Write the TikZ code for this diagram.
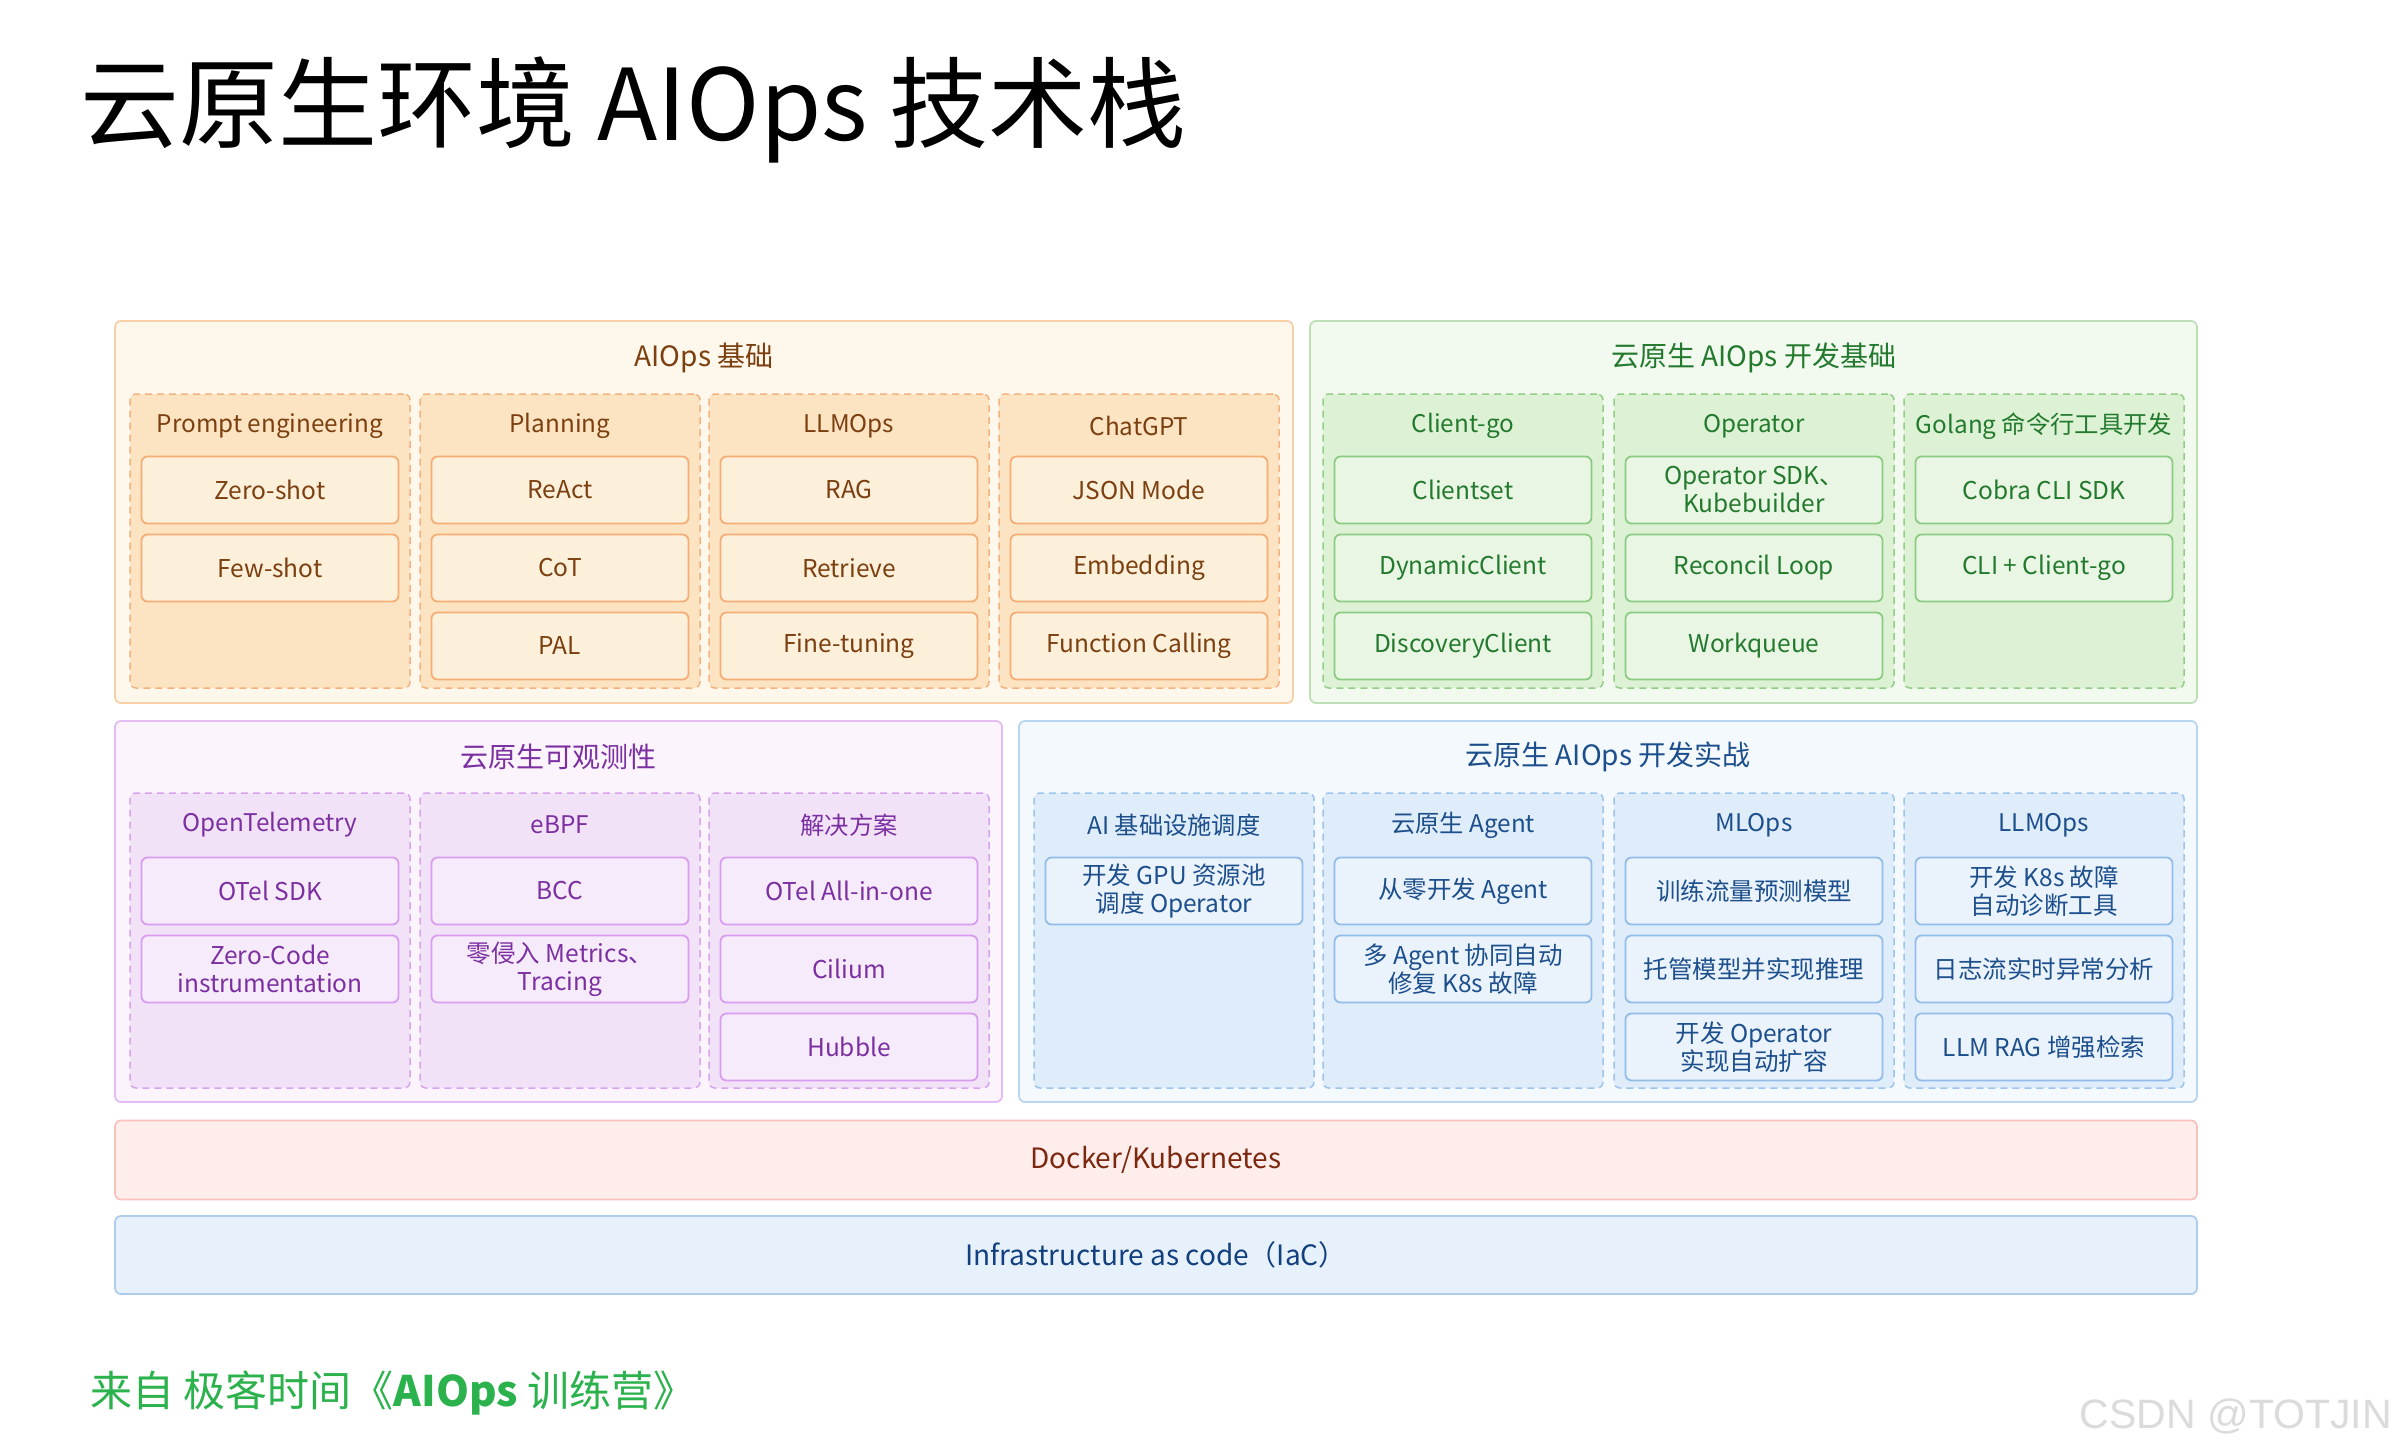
\documentclass[tikz,border=0pt]{standalone}
\usepackage{fontspec}
\setmainfont{Noto Sans CJK SC}
\newfontfamily\wmfont{Liberation Sans}
\definecolor{oText}{HTML}{7B3F10}
\definecolor{oOutF}{HTML}{FEF7EC}
\definecolor{oOutD}{HTML}{F9CFA8}
\definecolor{oGrpF}{HTML}{FCE4C2}
\definecolor{oGrpD}{HTML}{F3B27F}
\definecolor{oItmF}{HTML}{FDF0DB}
\definecolor{oItmD}{HTML}{F4AE75}
\definecolor{gText}{HTML}{237A2E}
\definecolor{gOutF}{HTML}{F2F9EE}
\definecolor{gOutD}{HTML}{BFE0B7}
\definecolor{gGrpF}{HTML}{DDF2D4}
\definecolor{gGrpD}{HTML}{93CD88}
\definecolor{gItmF}{HTML}{EAF6E4}
\definecolor{gItmD}{HTML}{8CCB82}
\definecolor{pText}{HTML}{7B2FA0}
\definecolor{pOutF}{HTML}{FBF4FD}
\definecolor{pOutD}{HTML}{E2BCF2}
\definecolor{pGrpF}{HTML}{F1E2F8}
\definecolor{pGrpD}{HTML}{D7A4EC}
\definecolor{pItmF}{HTML}{F6EBFB}
\definecolor{pItmD}{HTML}{D99CF1}
\definecolor{bText}{HTML}{1D4F8C}
\definecolor{bOutF}{HTML}{F4F9FE}
\definecolor{bOutD}{HTML}{B8D6F2}
\definecolor{bGrpF}{HTML}{DFECF9}
\definecolor{bGrpD}{HTML}{9DC4EB}
\definecolor{bItmF}{HTML}{EAF3FC}
\definecolor{bItmD}{HTML}{92BCE9}
\definecolor{dText}{HTML}{7C2810}
\definecolor{dF}{HTML}{FEEDEA}
\definecolor{dD}{HTML}{F8C3BB}
\definecolor{iText}{HTML}{123F7E}
\definecolor{iF}{HTML}{E6F1FC}
\definecolor{iD}{HTML}{AFCDEB}
\definecolor{footG}{HTML}{2BB24C}
\tikzset{
  basebox/.style={rounded corners=6pt, inner sep=0pt, align=center,
    font=\fontsize{24.5}{28}\selectfont},
  outerbox/.style={basebox, line width=1.8pt, minimum height=382pt},
  grpbox/.style={basebox, line width=1.5pt, dash pattern=on 7pt off 5pt,
    minimum width=280pt, minimum height=294pt},
  itembox/.style={basebox, line width=1.8pt, minimum width=257pt, minimum height=67pt},
  sectitle/.style={font=\fontsize{28}{32}\selectfont, inner sep=0pt},
  grphead/.style={font=\fontsize{24.3}{28}\selectfont, inner sep=0pt},
  oOut/.style={outerbox, fill=oOutF, draw=oOutD},
  oGrp/.style={grpbox, fill=oGrpF, draw=oGrpD},
  oItm/.style={itembox, fill=oItmF, draw=oItmD, text=oText},
  gOut/.style={outerbox, fill=gOutF, draw=gOutD},
  gGrp/.style={grpbox, fill=gGrpF, draw=gGrpD},
  gItm/.style={itembox, fill=gItmF, draw=gItmD, text=gText},
  pOut/.style={outerbox, fill=pOutF, draw=pOutD},
  pGrp/.style={grpbox, fill=pGrpF, draw=pGrpD},
  pItm/.style={itembox, fill=pItmF, draw=pItmD, text=pText},
  bOut/.style={outerbox, fill=bOutF, draw=bOutD},
  bGrp/.style={grpbox, fill=bGrpF, draw=bGrpD},
  bItm/.style={itembox, fill=bItmF, draw=bItmD, text=bText},
  layerbox/.style={basebox, line width=1.8pt, minimum width=2082pt,
    font=\fontsize{28}{32}\selectfont},
}
\begin{document}
\begin{tikzpicture}[x=1pt,y=-1pt]
\useasboundingbox[fill=white] (0,0) rectangle (2396,1456);
% title
\node[anchor=west, inner sep=0pt, font=\fontsize{99}{112}\selectfont] (title) at (80,110) {云原生环境 AIOps 技术栈};

% ===== AIOps 基础 (orange)
\node[oOut, minimum width=1178pt] (aiopsbase) at (704,512) {};
\node[sectitle, text=oText] (aiopsbaseT) at (704,358) {AIOps 基础};
\node[oGrp] (gPrompt) at (270,541) {};
\node[oGrp] (gPlan) at (560,541) {};
\node[oGrp] (gLLM1) at (849,541) {};
\node[oGrp] (gChat) at (1139,541) {};
\node[grphead, text=oText] (hPrompt) at (270,426) {Prompt engineering};
\node[grphead, text=oText] (hPlan) at (560,426) {Planning};
\node[grphead, text=oText] (hLLM1) at (849,426) {LLMOps};
\node[grphead, text=oText] (hChat) at (1139,426) {ChatGPT};
\node[oItm] (zeroshot) at (270,490) {Zero-shot};
\node[oItm] (fewshot) at (270,568) {Few-shot};
\node[oItm] (react) at (560,490) {ReAct};
\node[oItm] (cot) at (560,568) {CoT};
\node[oItm] (pal) at (560,646) {PAL};
\node[oItm] (rag) at (849,490) {RAG};
\node[oItm] (retrieve) at (849,568) {Retrieve};
\node[oItm] (finetune) at (849,646) {Fine-tuning};
\node[oItm] (jsonmode) at (1139,490) {JSON Mode};
\node[oItm] (embedding) at (1139,568) {Embedding};
\node[oItm] (funccall) at (1139,646) {Function Calling};

% ===== 云原生 AIOps 开发基础 (green)
\node[gOut, minimum width=887pt] (devbase) at (1753.5,512) {};
\node[sectitle, text=gText] (devbaseT) at (1753.5,358) {云原生 AIOps 开发基础};
\node[gGrp] (gClient) at (1463,541) {};
\node[gGrp] (gOper) at (1754,541) {};
\node[gGrp] (gGolang) at (2044,541) {};
\node[grphead, text=gText] (hClient) at (1463,426) {Client-go};
\node[grphead, text=gText] (hOper) at (1754,426) {Operator};
\node[grphead, text=gText] (hGolang) at (2044,426) {Golang 命令行工具开发};
\node[gItm] (clientset) at (1463,490) {Clientset};
\node[gItm] (dynclient) at (1463,568) {DynamicClient};
\node[gItm] (discclient) at (1463,646) {DiscoveryClient};
\node[gItm] (opsdk) at (1754,490) {Operator SDK、\\Kubebuilder};
\node[gItm] (reconcil) at (1754,568) {Reconcil Loop};
\node[gItm] (workqueue) at (1754,646) {Workqueue};
\node[gItm] (cobra) at (2044,490) {Cobra CLI SDK};
\node[gItm] (cliclient) at (2044,568) {CLI + Client-go};

% ===== 云原生可观测性 (purple)
\node[pOut, minimum width=887pt, minimum height=381pt] (observ) at (558.5,911.5) {};
\node[sectitle, text=pText] (observT) at (558.5,757) {云原生可观测性};
\node[pGrp, minimum height=295pt] (gOtel) at (270,940.5) {};
\node[pGrp, minimum height=295pt] (gEbpf) at (560,940.5) {};
\node[pGrp, minimum height=295pt] (gSol) at (849,940.5) {};
\node[grphead, text=pText] (hOtel) at (270,825) {OpenTelemetry};
\node[grphead, text=pText] (hEbpf) at (560,825) {eBPF};
\node[grphead, text=pText] (hSol) at (849,825) {解决方案};
\node[pItm] (otelsdk) at (270,891) {OTel SDK};
\node[pItm] (zerocode) at (270,969) {Zero-Code\\instrumentation};
\node[pItm] (bcc) at (560,891) {BCC};
\node[pItm] (zeroinv) at (560,969) {零侵入 Metrics、\\Tracing};
\node[pItm] (allinone) at (849,891) {OTel All-in-one};
\node[pItm] (cilium) at (849,969) {Cilium};
\node[pItm] (hubble) at (849,1047) {Hubble};

% ===== 云原生 AIOps 开发实战 (blue)
\node[bOut, minimum width=1178pt, minimum height=381pt] (practice) at (1608,911.5) {};
\node[sectitle, text=bText] (practiceT) at (1608,757) {云原生 AIOps 开发实战};
\node[bGrp, minimum height=295pt] (gInfra) at (1174,940.5) {};
\node[bGrp, minimum height=295pt] (gAgent) at (1463,940.5) {};
\node[bGrp, minimum height=295pt] (gMlops) at (1754,940.5) {};
\node[bGrp, minimum height=295pt] (gLLM2) at (2044,940.5) {};
\node[grphead, text=bText] (hInfra) at (1174,825) {AI 基础设施调度};
\node[grphead, text=bText] (hAgent) at (1463,825) {云原生 Agent};
\node[grphead, text=bText] (hMlops) at (1754,825) {MLOps};
\node[grphead, text=bText] (hLLM2) at (2044,825) {LLMOps};
\node[bItm] (gpupool) at (1174,891) {开发 GPU 资源池\\调度 Operator};
\node[bItm] (agent0) at (1463,891) {从零开发 Agent};
\node[bItm] (multiagent) at (1463,969) {多 Agent 协同自动\\修复 K8s 故障};
\node[bItm] (traffic) at (1754,891) {训练流量预测模型};
\node[bItm] (hosting) at (1754,969) {托管模型并实现推理};
\node[bItm] (autoscale) at (1754,1047) {开发 Operator\\实现自动扩容};
\node[bItm] (k8sdiag) at (2044,891) {开发 K8s 故障\\自动诊断工具};
\node[bItm] (logstream) at (2044,969) {日志流实时异常分析};
\node[bItm] (llmrag) at (2044,1047) {LLM RAG 增强检索};

% ===== bottom layers
\node[layerbox, fill=dF, draw=dD, text=dText, minimum height=79pt] (docker) at (1156,1160) {Docker/Kubernetes};
\node[layerbox, fill=iF, draw=iD, text=iText, minimum height=78pt] (iac) at (1156,1255) {Infrastructure as code（IaC）};

% footer
\node[anchor=west, inner sep=0pt, text=footG, font=\fontsize{42}{50}\selectfont] (footer) at (90,1393) {来自 极客时间《\textbf{AIOps} 训练营》};
\node[anchor=east, inner sep=0pt, text=black!14, font=\wmfont\fontsize{41}{48}\selectfont] (wm) at (2392,1416) {CSDN @TOTJIN};
\end{tikzpicture}
\end{document}
